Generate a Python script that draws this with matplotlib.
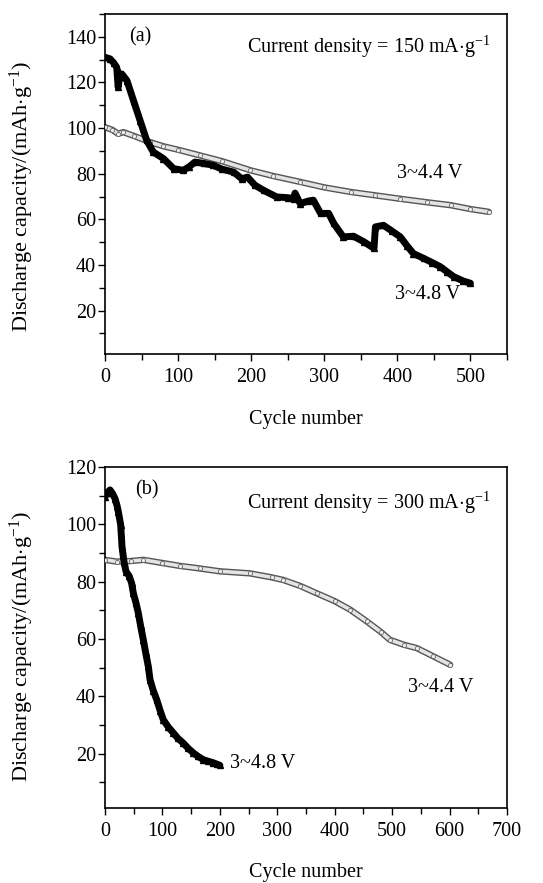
import matplotlib
matplotlib.use("Agg")
import matplotlib.pyplot as plt
from matplotlib.ticker import MultipleLocator

plt.rcParams['font.family'] = ['Liberation Serif', 'DejaVu Serif']
plt.rcParams['mathtext.fontset'] = 'custom'
plt.rcParams['mathtext.rm'] = 'Liberation Serif'
plt.rcParams['mathtext.it'] = 'Liberation Serif:italic'

# ---- Panel (a): 150 mA/g ----
a44_x = [0, 10, 18, 25, 40, 62, 80, 100, 130, 160, 199, 230, 267, 300, 336, 370, 404, 440, 473, 500, 525]
a44_y = [100.4, 99.2, 97.5, 98.2, 96.5, 93.8, 92.0, 90.5, 88.0, 85.5, 81.5, 79.0, 76.4, 74.0, 72.0, 70.5, 69.0, 67.5, 66.2, 64.5, 63.3]

a48_x = [0, 7, 12, 16, 18, 20, 23, 30, 39, 48, 57, 66, 80, 94, 107, 115, 123, 135, 148, 160, 176,
         187, 195, 205, 217, 235, 250, 258, 260, 267, 278, 285, 295, 306, 313, 326, 340, 354, 368,
         370, 381, 392, 404, 413, 422, 436, 448, 459, 468, 477, 490, 500]
a48_y = [131.0, 130.3, 128.5, 126.6, 117.9, 122.5, 123.7, 120.8, 112.0, 103.3, 94.6, 89.5, 86.6, 82.2, 81.5, 83.0, 85.1, 84.5, 83.7, 82.0, 80.7,
         77.8, 78.5, 75.0, 72.7, 69.8, 69.5, 69.1, 71.5, 66.9, 68.0, 68.4, 62.6, 62.6, 58.2, 52.3, 52.6, 50.2, 47.3,
         56.7, 57.4, 55.0, 52.3, 48.5, 45.0, 42.9, 41.0, 39.2, 37.0, 34.9, 33.0, 32.0]

# ---- Panel (b): 300 mA/g ----
b44_x = [0, 20, 45, 67, 100, 130, 165, 200, 252, 290, 310, 340, 369, 400, 427, 456, 480, 496, 520, 543, 572, 601]
b44_y = [87.6, 87.0, 87.2, 87.6, 86.5, 85.5, 84.6, 83.6, 82.9, 81.5, 80.6, 78.5, 75.9, 73.2, 70.2, 66.1, 62.5, 59.7, 58.0, 56.8, 53.9, 51.0]

b48_x = [0, 4, 8.7, 13, 17.4, 21, 23.2, 27.3, 29.6, 33, 36.6, 42, 46.4, 49.3, 54, 58, 62, 66.7, 71, 75.4, 78.4,
         84, 90, 96, 101.5, 110, 119, 127, 136, 145, 154, 162, 171, 180, 188.6, 195, 200]
b48_y = [109.7, 111.0, 112.0, 110.8, 109.0, 106.5, 104.4, 99.8, 92.2, 87.0, 83.5, 82.0, 79.4, 76.0, 72.5, 69.0, 64.5, 59.7, 55.0, 50.4, 45.8,
         42.0, 38.8, 35.0, 31.8, 29.3, 27.2, 25.3, 23.7, 21.8, 20.2, 19.0, 17.9, 17.3, 16.8, 16.3, 15.9]

fig = plt.figure(figsize=(5.43, 8.83), dpi=100)
ax1 = fig.add_axes([0.1934, 0.5991, 0.7403, 0.3851])
ax2 = fig.add_axes([0.1934, 0.0849, 0.7403, 0.3862])


def draw_44(ax, x, y):
    ax.plot(x, y, color='#555555', lw=4.6, solid_capstyle='round', zorder=2)
    ax.plot(x, y, color='#e4e4e4', lw=2.6, solid_capstyle='round', zorder=3)
    ax.plot(x, y, ls='none', marker='o', ms=3.0, mfc='#f0f0f0', mec='#666666', mew=0.6, zorder=4)


def draw_48(ax, x, y):
    ax.plot(x, y, color='black', lw=5.0, solid_joinstyle='round', solid_capstyle='round', zorder=5)
    ax.plot(x, y, ls='none', marker='^', ms=5.0, color='black', zorder=6)


draw_44(ax1, a44_x, a44_y)
draw_48(ax1, a48_x, a48_y)
draw_44(ax2, b44_x, b44_y)
draw_48(ax2, b48_x, b48_y)

ylab = r'Discharge capacity/(mAh$\cdot$g$^{-1}$)'
for ax in (ax1, ax2):
    for s in ax.spines.values():
        s.set_linewidth(1.2)
    ax.tick_params(which='both', direction='out', top=False, right=False, labelsize=14.5, width=1.0)
    ax.tick_params(which='major', length=5)
    ax.tick_params(which='minor', length=4)
    ax.tick_params(axis='y', which='major', pad=1.5)
    ax.tick_params(axis='x', which='major', pad=5)
    ax.set_xlabel('Cycle number', fontsize=14.5, va='center')
    ax.set_ylabel(ylab, fontsize=16, va='center')

ax1.xaxis.set_label_coords(0.5, -0.194)
ax1.yaxis.set_label_coords(-0.207, 0.463)
ax2.xaxis.set_label_coords(0.5, -0.188)
ax2.yaxis.set_label_coords(-0.207, 0.474)

ax1.set_xlim(0, 550)
ax1.set_ylim(1, 150)
ax1.xaxis.set_major_locator(MultipleLocator(100))
ax1.xaxis.set_minor_locator(MultipleLocator(50))
ax1.set_yticks([20, 40, 60, 80, 100, 120, 140])
ax1.yaxis.set_minor_locator(MultipleLocator(10))

ax2.set_xlim(0, 700)
ax2.set_ylim(1, 120)
ax2.xaxis.set_major_locator(MultipleLocator(100))
ax2.xaxis.set_minor_locator(MultipleLocator(50))
ax2.set_yticks([20, 40, 60, 80, 100, 120])
ax2.yaxis.set_minor_locator(MultipleLocator(10))

fs = 14.5
ax1.text(0.06, 0.933, '(a)', transform=ax1.transAxes, fontsize=fs, va='center', ha='left')
ax1.text(0.958, 0.904, r'Current density = 150 mA$\cdot$g$^{-1}$', transform=ax1.transAxes,
         fontsize=fs, va='center', ha='right')
ax1.text(0.807, 0.531, '3~4.4 V', transform=ax1.transAxes, fontsize=fs, va='center', ha='center')
ax1.text(0.802, 0.174, '3~4.8 V', transform=ax1.transAxes, fontsize=fs, va='center', ha='center')

ax2.text(0.075, 0.933, '(b)', transform=ax2.transAxes, fontsize=fs, va='center', ha='left')
ax2.text(0.958, 0.894, r'Current density = 300 mA$\cdot$g$^{-1}$', transform=ax2.transAxes,
         fontsize=fs, va='center', ha='right')
ax2.text(0.835, 0.352, '3~4.4 V', transform=ax2.transAxes, fontsize=fs, va='center', ha='center')
ax2.text(0.31, 0.131, '3~4.8 V', transform=ax2.transAxes, fontsize=fs, va='center', ha='left')

fig.savefig('out.png', dpi=100)
